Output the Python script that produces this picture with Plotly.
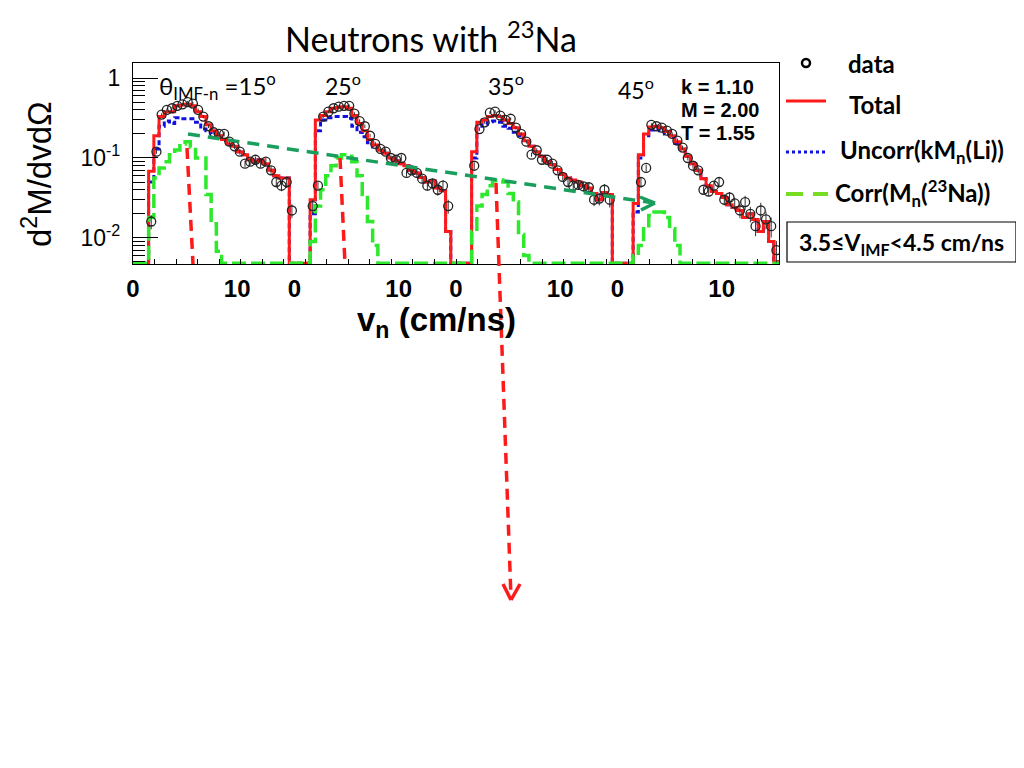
import plotly.graph_objects as go

# ---------------- data (bins of 0.5 cm/ns, 0 .. 15.5 per panel) ----------------
bin_width = 0.5
n_bins = 31
panel_width = 15.5
angles = ["15", "25", "35", "45"]

p1_total = [0, 0, 0, 0.068, 0.19, 0.33, 0.38, 0.38, 0.45, 0.46, 0.47, 0.45, 0.38, 0.33, 0.26, 0.22,
            0.19, 0.17, 0.15, 0.14, 0.12, 0.11, 0.095, 0.09, 0.095, 0.085, 0.07, 0.06, 0.056, 0.056, 0]
p1_uncorr = [0, 0, 0, 0.05, 0.13, 0.25, 0.29, 0.27, 0.32, 0.31, 0.31, 0.31, 0.28, 0.23, 0.22, 0.2,
             0.185, 0.167, 0.148, 0.139, 0.12, 0.11, 0.095, 0.09, 0.095, 0.085, 0.07, 0.06, 0.056, 0.056, 0]
p1_corr = [0, 0, 0, 0.018, 0.056, 0.075, 0.09, 0.11, 0.126, 0.15, 0.16, 0.135, 0.1, 0.1, 0.035, 0.015,
           0.0068, 0, 0, 0, 0, 0, 0, 0, 0, 0, 0, 0, 0, 0, 0]
p1_data = [None, None, None, 0.016, 0.12, 0.35, 0.40, 0.42, 0.45, 0.47, 0.50, 0.48, 0.40, 0.33, 0.25, 0.21,
           0.2, 0.2, 0.16, 0.14, 0.12, 0.085, 0.09, 0.095, 0.085, 0.09, 0.07, 0.05, 0.045, 0.05, 0.022]
p1_relerr = [0, 0, 0, 0.2, 0.06, 0.04, 0.04, 0.04, 0.04, 0.04, 0.04, 0.04, 0.04, 0.05, 0.05, 0.06,
             0.06, 0.07, 0.07, 0.08, 0.08, 0.09, 0.1, 0.1, 0.11, 0.12, 0.13, 0.14, 0.15, 0.16, 0.2]

p2_total = [0, 0, 0, 0.03, 0.3, 0.34, 0.38, 0.42, 0.43, 0.44, 0.42, 0.34, 0.27, 0.22, 0.17, 0.145,
            0.125, 0.115, 0.10, 0.092, 0.085, 0.08, 0.07, 0.065, 0.057, 0.05, 0.052, 0.042, 0.039, 0.012, 0]
p2_uncorr = [0, 0, 0, 0.02, 0.22, 0.3, 0.32, 0.33, 0.33, 0.33, 0.315, 0.25, 0.21, 0.185, 0.155, 0.137,
             0.125, 0.115, 0.10, 0.092, 0.085, 0.08, 0.07, 0.065, 0.057, 0.05, 0.052, 0.042, 0.039, 0.012, 0]
p2_corr = [0, 0, 0, 0.009, 0.025, 0.04, 0.06, 0.08, 0.1, 0.11, 0.105, 0.09, 0.06, 0.035, 0.016, 0.008,
           0, 0, 0, 0, 0, 0, 0, 0, 0, 0, 0, 0, 0, 0, 0]
p2_data = [None, None, None, 0.025, 0.045, 0.33, 0.38, 0.42, 0.44, 0.45, 0.45, 0.36, 0.29, 0.25, 0.19, 0.15,
           0.13, 0.12, 0.1, 0.095, 0.1, 0.065, 0.07, 0.065, 0.055, 0.045, 0.048, 0.04, 0.045, 0.025, None]
p2_relerr = [0, 0, 0, 0.2, 0.12, 0.04, 0.04, 0.04, 0.04, 0.04, 0.04, 0.04, 0.05, 0.05, 0.05, 0.06,
             0.07, 0.07, 0.08, 0.09, 0.1, 0.1, 0.11, 0.12, 0.13, 0.14, 0.15, 0.16, 0.17, 0.2, 0]

p3_total = [0, 0, 0, 0.12, 0.28, 0.30, 0.33, 0.34, 0.33, 0.30, 0.27, 0.24, 0.2, 0.165, 0.14, 0.12,
            0.105, 0.09, 0.082, 0.072, 0.062, 0.056, 0.053, 0.05, 0.045, 0.042, 0.036, 0.03, 0.037, 0.035, 0]
p3_uncorr = [0, 0, 0, 0.1, 0.25, 0.265, 0.285, 0.29, 0.28, 0.25, 0.235, 0.21, 0.19, 0.16, 0.14, 0.12,
             0.105, 0.09, 0.082, 0.072, 0.062, 0.056, 0.053, 0.05, 0.045, 0.042, 0.036, 0.03, 0.037, 0.035, 0]
p3_corr = [0, 0, 0, 0.012, 0.025, 0.035, 0.045, 0.052, 0.053, 0.05, 0.036, 0.028, 0.011, 0.006, 0, 0,
           0, 0, 0, 0, 0, 0, 0, 0, 0, 0, 0, 0, 0, 0, 0]
p3_data = [None, None, None, 0.08, 0.23, 0.28, 0.37, 0.38, 0.34, 0.30, 0.31, 0.24, 0.2, 0.16, 0.11, 0.125,
           0.095, 0.095, 0.085, 0.07, 0.058, 0.05, 0.045, 0.046, 0.044, 0.043, 0.03, 0.031, 0.04, 0.03, None]
p3_relerr = [0, 0, 0, 0.1, 0.05, 0.04, 0.04, 0.04, 0.04, 0.04, 0.04, 0.05, 0.05, 0.05, 0.06, 0.06,
             0.07, 0.08, 0.08, 0.09, 0.1, 0.11, 0.12, 0.13, 0.14, 0.15, 0.17, 0.18, 0.18, 0.2, 0]

p4_total = [0, 0, 0, 0.027, 0.11, 0.2, 0.245, 0.25, 0.24, 0.215, 0.19, 0.16, 0.13, 0.105, 0.085, 0.07,
            0.055, 0.045, 0.038, 0.036, 0.032, 0.026, 0.024, 0.022, 0.018, 0.02, 0.017, 0.012, 0.016, 0.009, 0.005]
p4_uncorr = [0, 0, 0, 0.021, 0.1, 0.19, 0.225, 0.23, 0.22, 0.2, 0.18, 0.152, 0.13, 0.105, 0.085, 0.07,
             0.055, 0.045, 0.038, 0.036, 0.032, 0.026, 0.024, 0.022, 0.018, 0.02, 0.017, 0.012, 0.016, 0.009, 0.005]
p4_corr = [0, 0, 0, 0.006, 0.008, 0.013, 0.019, 0.021, 0.021, 0.018, 0.013, 0.008, 0, 0, 0, 0,
           0, 0, 0, 0, 0, 0, 0, 0, 0, 0, 0, 0, 0, 0, 0]
p4_data = [None, None, None, None, 0.05, 0.075, 0.26, 0.25, 0.24, 0.22, 0.2, 0.165, 0.135, 0.1, 0.08, 0.07,
           0.04, 0.038, 0.045, 0.05, 0.03, 0.032, 0.027, 0.022, 0.028, 0.02, 0.014, 0.022, 0.017, 0.014, 0.007]
p4_relerr = [0, 0, 0, 0, 0.15, 0.1, 0.05, 0.05, 0.05, 0.05, 0.05, 0.06, 0.06, 0.07, 0.08, 0.09,
             0.1, 0.12, 0.13, 0.14, 0.15, 0.17, 0.18, 0.2, 0.2, 0.22, 0.25, 0.25, 0.25, 0.28, 0.3]

totals = [p1_total, p2_total, p3_total, p4_total]
uncorrs = [p1_uncorr, p2_uncorr, p3_uncorr, p4_uncorr]
corrs = [p1_corr, p2_corr, p3_corr, p4_corr]
datas = [p1_data, p2_data, p3_data, p4_data]
relerrs = [p1_relerr, p2_relerr, p3_relerr, p4_relerr]

x_tick_labels = ["0", "10"]
y_tick_vals = [0.01, 0.1, 1]
y_tick_text = ["10<sup>-2</sup>", "10<sup>-1</sup>", "1"]

# ---------------- geometry helpers (screen pixel coords) ----------------
PAGE_OFF = 8                      # default body margin of the html page
W, H = 1024 - PAGE_OFF, 768 - PAGE_OFF
X0, X1, Y0, Y1 = 133, 779, 63, 264   # plot frame on screen
YLOG_MIN, YLOG_MAX = -2.328, 0.19
FLOOR = 10 ** (-2.318)


def px(x):
    return (x - X0) / (X1 - X0)


def py(y):
    return (Y1 - y) / (Y1 - Y0)


def step_series(panels):
    xs, ys = [], []
    for k, vals in enumerate(panels):
        off = k * panel_width
        for i, v in enumerate(vals):
            xs.append(off + i * bin_width)
            ys.append(v if v > 0 else FLOOR)
    xs.append(len(panels) * panel_width)
    ys.append(ys[-1])
    return xs, ys


fig = go.Figure()

RED = "#ff1a1a"
BLUE = "#1010e0"
GREEN = "#2ee82e"
LIME = "#77dd22"
TEAL = "#1a9e5e"

bx, by = step_series(uncorrs)
fig.add_trace(go.Scatter(x=bx, y=by, mode="lines", line_shape="hv",
                         line=dict(color=BLUE, width=3, dash="5px,3px"), showlegend=False))
rx, ry = step_series(totals)
fig.add_trace(go.Scatter(x=rx, y=ry, mode="lines", line_shape="hv",
                         line=dict(color=RED, width=3), showlegend=False))
gx, gy = step_series(corrs)
fig.add_trace(go.Scatter(x=gx, y=gy, mode="lines", line_shape="hv",
                         line=dict(color=GREEN, width=3.5, dash="14px,5px"), showlegend=False))

dx, dy, de = [], [], []
for k in range(4):
    for i, v in enumerate(datas[k]):
        if v is None:
            continue
        dx.append(k * panel_width + (i + 0.5) * bin_width)
        dy.append(v)
        de.append(v * relerrs[k][i])
fig.add_trace(go.Scatter(x=dx, y=dy, mode="markers",
                         marker=dict(symbol="circle-open", size=9, color="#222222", line=dict(width=1.3)),
                         error_y=dict(type="data", array=de, visible=True, color="#333333",
                                      thickness=1, width=0),
                         showlegend=False))

# ---------------- axes ----------------
xt_vals, xt_text = [], []
for k in range(4):
    for lab in x_tick_labels:
        xt_vals.append(k * panel_width + float(lab))
        xt_text.append("<b>" + lab + "</b>")
x_minor = [k * 62 / 30 for k in range(1, 30)]

y_minor = []
for dec in [0.001, 0.01, 0.1, 1]:
    for m in range(2, 10):
        y_minor.append(m * dec)

fig.update_xaxes(range=[0, 4 * panel_width], tickmode="array", tickvals=xt_vals, ticktext=xt_text,
                 ticks="", showgrid=False, zeroline=False, showline=True, mirror=True,
                 linecolor="black", linewidth=1.2,
                 tickfont=dict(family="Liberation Sans", size=24, color="black"),
                 minor=dict(tickmode="array", tickvals=x_minor, ticks="inside", ticklen=5,
                            tickcolor="black", tickwidth=1, showgrid=False),
                 ticklabelstandoff=3)
fig.update_yaxes(type="log", range=[YLOG_MIN, YLOG_MAX], tickmode="array", tickvals=y_tick_vals,
                 ticktext=y_tick_text, ticks="inside", ticklen=25, tickcolor="black", tickwidth=1,
                 showgrid=False, zeroline=False, showline=True, mirror=True,
                 linecolor="black", linewidth=1.2,
                 tickfont=dict(family="Liberation Sans", size=23, color="black"),
                 minor=dict(tickmode="array", tickvals=y_minor, ticks="inside", ticklen=12,
                            tickcolor="black", tickwidth=1, showgrid=False),
                 ticklabelstandoff=7)

# ---------------- shapes ----------------
shapes = []


def seg(x0, y0, x1, y1, color, width, dash="solid"):
    shapes.append(dict(type="line", xref="paper", yref="paper", x0=px(x0), y0=py(y0), x1=px(x1), y1=py(y1),
                       line=dict(color=color, width=width, dash=dash), layer="above"))


# teal dashed arrow across panels
seg(188, 134, 654, 203, TEAL, 3.5, "12px,8px")
seg(640, 197, 655, 203, TEAL, 3.5)
seg(655, 203, 641, 210, TEAL, 3.5)

# red dashed markers
seg(187, 148, 193, 264, RED, 3.5, "11px,7px")
seg(340, 158, 345, 264, RED, 3.5, "11px,7px")
seg(496, 183, 511, 598, RED, 3.5, "11px,7px")
seg(503, 584, 511, 600, RED, 3.5)
seg(511, 600, 520, 584, RED, 3.5)

# legend
shapes.append(dict(type="circle", xref="paper", yref="paper", x0=px(802), x1=px(810), y0=py(59), y1=py(67),
                   line=dict(color="black", width=2.5)))
seg(786, 101, 826, 101, RED, 3)
seg(786, 152, 827, 152, BLUE, 3, "3px,3px")
seg(786, 194, 803, 194, LIME, 4)
seg(813, 194, 828, 194, LIME, 4)
shapes.append(dict(type="rect", xref="paper", yref="paper", x0=px(787), x1=px(1016), y0=py(222), y1=py(262),
                   line=dict(color="black", width=1.2)))

# ---------------- annotations ----------------
ann = []


def text(x, y, s, size, family="Lato", xanchor="center", color="black", angle=0):
    ann.append(dict(x=px(x), y=py(y), xref="paper", yref="paper", text=s, showarrow=False,
                    xanchor=xanchor, yanchor="middle", textangle=angle,
                    font=dict(family=family, size=size, color=color)))


text(431, 37, "Neutrons with <sup>23</sup>Na", 34)
text(157, 86, "θ<sub>IMF-n</sub> =" + angles[0] + "<sup>o</sup>", 24, xanchor="left")
text(343, 84, angles[1] + "<sup>o</sup>", 23)
text(506, 84, angles[2] + "<sup>o</sup>", 23)
text(636, 88, angles[3] + "<sup>o</sup>", 23)
text(679, 87, "<b>k = 1.10</b>", 20, family="Liberation Sans", xanchor="left")
text(679, 110, "<b>M = 2.00</b>", 20, family="Liberation Sans", xanchor="left")
text(679, 133, "<b>T = 1.55</b>", 20, family="Liberation Sans", xanchor="left")

text(846, 63, "<b>data</b>", 24, xanchor="left")
text(847, 104, "<b>Total</b>", 24, xanchor="left")
text(838, 151, "<b>Uncorr(kM<sub>n</sub>(Li))</b>", 24, xanchor="left")
text(833, 193, "<b>Corr(M<sub>n</sub>(<sup>23</sup>Na))</b>", 24, xanchor="left")
text(901, 243, "<b>3.5≤V<sub>IMF</sub>&lt;4.5 cm/ns</b>", 23)

text(436, 322, "<b>v<sub>n</sub> (cm/ns)</b>", 33, family="Liberation Sans")
text(37, 174, "d<sup>2</sup>M/dvdΩ", 33, family="Liberation Sans", angle=-90)

fig.update_layout(width=W, height=H, autosize=False,
                  margin=dict(l=X0 - PAGE_OFF, r=W - (X1 - PAGE_OFF), t=Y0 - PAGE_OFF,
                              b=H - (Y1 - PAGE_OFF), pad=0),
                  paper_bgcolor="white", plot_bgcolor="white",
                  shapes=shapes, annotations=ann, showlegend=False)

fig.write_html("out.html")
